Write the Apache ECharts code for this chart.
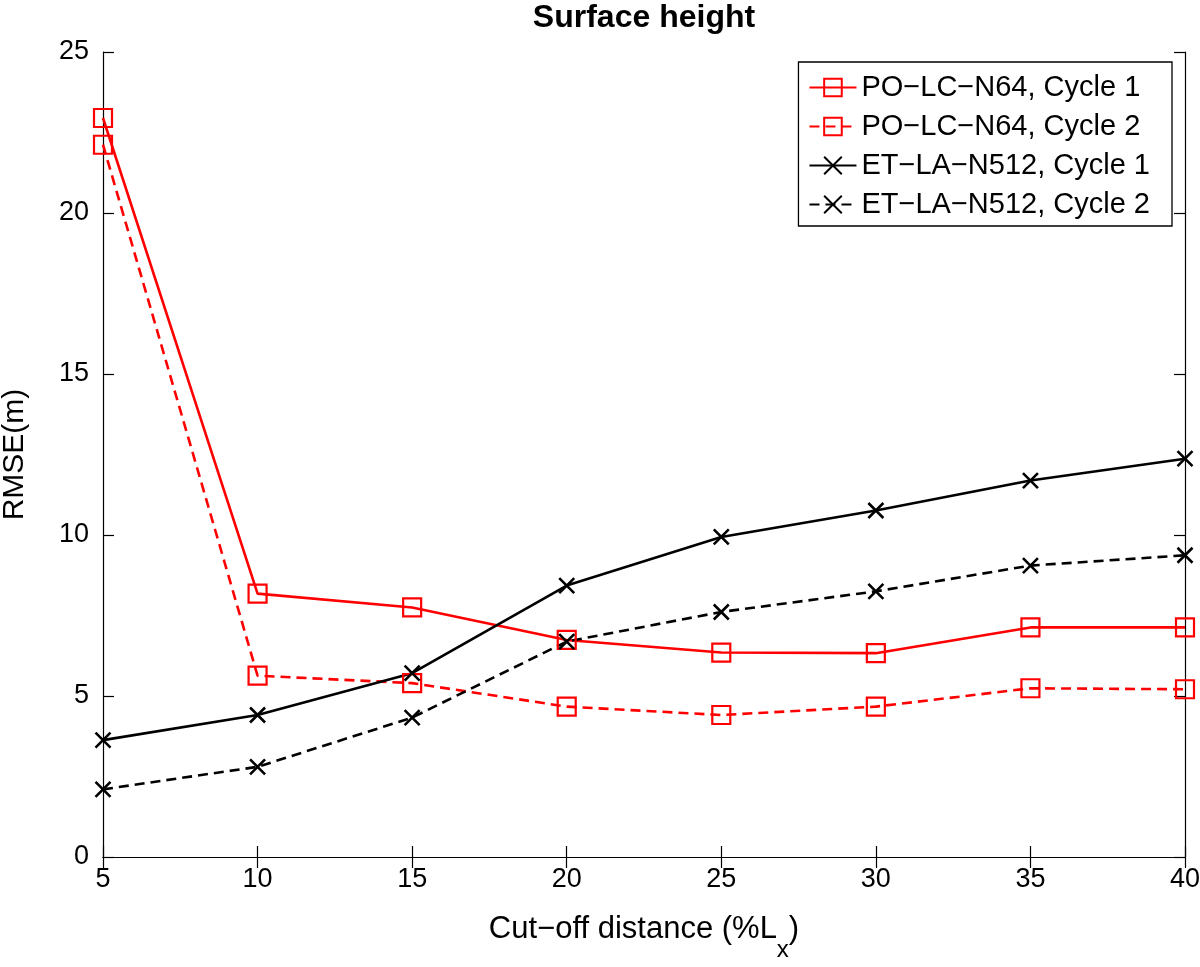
<!DOCTYPE html>
<html>
<head>
<meta charset="utf-8">
<script src="https://cdn.jsdelivr.net/npm/echarts@6/dist/echarts.min.js"></script>
<style>
  html, body { margin: 0; padding: 0; background: #fff; }
  #chart { width: 1200px; height: 967px; }
</style>
</head>
<body>
<div id="chart"></div>
<script>
// cut-off distance (% Lx)
var distance = [5, 10, 15, 20, 25, 30, 35, 40];
// RMSE (m) per run
var poCycle1 = [22.95, 8.18, 7.75, 6.74, 6.35, 6.33, 7.13, 7.13];
var poCycle2 = [22.12, 5.63, 5.40, 4.67, 4.41, 4.67, 5.24, 5.21];
var etCycle1 = [3.63, 4.41, 5.71, 8.43, 9.94, 10.76, 11.69, 12.37];
var etCycle2 = [2.10, 2.80, 4.33, 6.69, 7.61, 8.25, 9.05, 9.37];
var seriesNames = ['PO−LC−N64, Cycle 1', 'PO−LC−N64, Cycle 2', 'ET−LA−N512, Cycle 1', 'ET−LA−N512, Cycle 2'];

var FONT = '"Liberation Sans", Arial, sans-serif';
var crossPath = 'path://M0,0L10,10M10,0L0,10';

function pairs(values) {
  return distance.map(function (d, i) { return [d, values[i]]; });
}

function makeSeries(name, values, color, dashed, marker) {
  var isSquare = marker == 'square';
  return {
    name: name,
    type: 'line',
    data: pairs(values),
    symbol: isSquare ? 'rect' : crossPath,
    symbolSize: isSquare ? 18 : 15,
    showAllSymbol: true,
    lineStyle: { color: color, width: 2.6, type: dashed ? [10, 6] : 'solid' },
    itemStyle: { color: 'transparent', borderColor: color, borderWidth: isSquare ? 2.2 : 2.6 },
    emphasis: { disabled: true }
  };
}

var tickStyle = { show: true, inside: true, length: 11, lineStyle: { color: '#000', width: 1.2 } };
var lineStyle = { show: true, lineStyle: { color: '#000', width: 1.2 } };

var chart = echarts.init(document.getElementById('chart'), null, { renderer: 'canvas' });

var option = {
  animation: false,
  backgroundColor: '#fff',
  title: {
    text: 'Surface height',
    left: 644,
    textAlign: 'center',
    top: 2,
    padding: 0,
    textStyle: { fontFamily: FONT, fontWeight: 'bold', fontSize: 32, color: '#000' }
  },
  legend: {
    data: seriesNames,
    orient: 'vertical',
    right: 28,
    top: 62,
    padding: [11, 22, 7, 10],
    itemWidth: 47,
    itemHeight: 22,
    itemGap: 10,
    borderColor: '#000',
    borderWidth: 1.3,
    backgroundColor: '#fff',
    textStyle: { fontFamily: FONT, fontSize: 29, color: '#000', lineHeight: 28 }
  },
  grid: { left: 103, right: 15, top: 52, bottom: 110, outerBoundsMode: 'none' },
  xAxis: [{
    type: 'value',
    min: 5, max: 40, interval: 5,
    name: '{a|Cut−off distance (%L}{s|x}{a|)}',
    nameLocation: 'middle',
    nameGap: 46,
    nameTextStyle: {
      rich: {
        a: { fontFamily: FONT, fontSize: 31, color: '#000', lineHeight: 37 },
        s: { fontFamily: FONT, fontSize: 24, color: '#000', lineHeight: 24, padding: [40, 0, 0, 0] }
      }
    },
    axisLine: lineStyle,
    axisTick: tickStyle,
    splitLine: { show: false },
    axisLabel: { fontFamily: FONT, fontSize: 27, color: '#000', margin: 9 }
  }, {
    type: 'value',
    position: 'top',
    min: 5, max: 40, interval: 5,
    axisLine: lineStyle,
    axisTick: tickStyle,
    splitLine: { show: false },
    axisLabel: { show: false }
  }],
  yAxis: [{
    type: 'value',
    min: 0, max: 25, interval: 5,
    name: 'RMSE(m)',
    nameLocation: 'middle',
    nameGap: 73,
    nameTextStyle: { fontFamily: FONT, fontSize: 30, color: '#000' },
    axisLine: lineStyle,
    axisTick: tickStyle,
    splitLine: { show: false },
    axisLabel: { fontFamily: FONT, fontSize: 27, color: '#000', margin: 14 }
  }, {
    type: 'value',
    position: 'right',
    min: 0, max: 25, interval: 5,
    axisLine: lineStyle,
    axisTick: tickStyle,
    splitLine: { show: false },
    axisLabel: { show: false }
  }],
  series: [
    makeSeries(seriesNames[0], poCycle1, '#ff0000', false, 'square'),
    makeSeries(seriesNames[1], poCycle2, '#ff0000', true, 'square'),
    makeSeries(seriesNames[2], etCycle1, '#000000', false, 'cross'),
    makeSeries(seriesNames[3], etCycle2, '#000000', true, 'cross')
  ]
};

chart.setOption(option);
</script>
</body>
</html>
